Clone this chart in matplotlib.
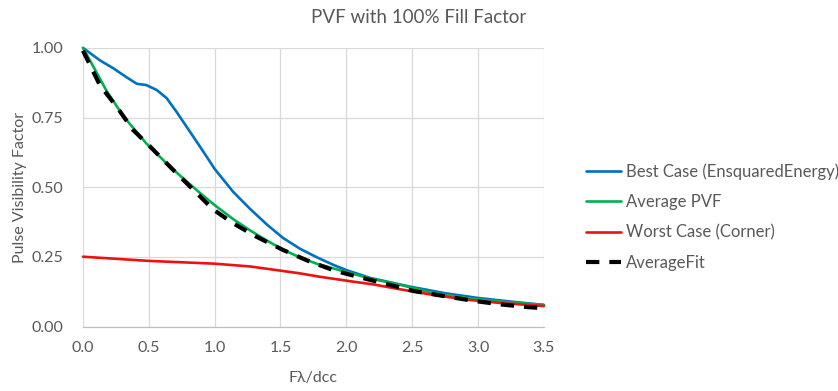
import matplotlib
matplotlib.use("Agg")
import matplotlib.pyplot as plt

plt.rcParams['font.family'] = ['Lato', 'DejaVu Sans']

title = "PVF with 100% Fill Factor"
xlabel = "Fλ/dcc"
ylabel = "Pulse Visibility Factor"

best_x = [0, 0.13, 0.23, 0.33, 0.41, 0.48, 0.56, 0.635, 0.71, 0.79, 0.89, 1.0, 1.14, 1.27, 1.4,
          1.52, 1.65, 1.78, 1.9, 2.0, 2.18, 2.48, 2.75, 3.0, 3.25, 3.5]
best_y = [1.0, 0.955, 0.927, 0.895, 0.871, 0.867, 0.849, 0.82, 0.771, 0.715, 0.645, 0.566, 0.484,
          0.422, 0.365, 0.318, 0.279, 0.248, 0.222, 0.203, 0.175, 0.144, 0.120, 0.103, 0.090, 0.078]

avg_x = [0, 0.04, 0.08, 0.18, 0.31, 0.48, 0.66, 0.89, 1.0, 1.14, 1.27, 1.4, 1.52, 1.65, 1.78, 2.0,
         2.18, 2.41, 2.66, 2.91, 3.17, 3.5]
avg_y = [1.0, 0.966, 0.932, 0.845, 0.753, 0.658, 0.574, 0.479, 0.436, 0.386, 0.345, 0.308, 0.276,
         0.248, 0.225, 0.196, 0.173, 0.150, 0.121, 0.103, 0.090, 0.078]

worst_x = [0, 0.5, 1.0, 1.27, 1.5, 1.65, 1.8, 2.03, 2.2, 2.41, 2.66, 2.91, 3.17, 3.5]
worst_y = [0.251, 0.236, 0.226, 0.216, 0.201, 0.191, 0.179, 0.163, 0.152, 0.134, 0.114, 0.097,
           0.085, 0.074]

fit_x = [0, 0.13, 0.256, 0.38, 0.51, 0.686, 0.84, 0.99, 1.14, 1.32, 1.52, 1.71, 1.91, 2.12, 2.33,
         2.51, 2.74, 2.96, 3.17, 3.38, 3.45]
fit_y = [0.99, 0.865, 0.789, 0.706, 0.646, 0.562, 0.49, 0.42, 0.371, 0.322, 0.275, 0.236, 0.201,
         0.175, 0.150, 0.128, 0.110, 0.093, 0.080, 0.070, 0.068]

labels = ["Best Case (EnsquaredEnergy)", "Average PVF", "Worst Case (Corner)", "AverageFit"]
xticks = [0.0, 0.5, 1.0, 1.5, 2.0, 2.5, 3.0, 3.5]
yticks = [0.0, 0.25, 0.5, 0.75, 1.0]

txt = '#595959'
grid = '#d9d9d9'

fig = plt.figure(figsize=(8.38, 3.91), dpi=100)
ax = fig.add_axes([0.099, 0.1645, 0.550, 0.713])

ax.plot(best_x, best_y, color='#0070C0', lw=1.9, label=labels[0], solid_capstyle='round')
ax.plot(avg_x, avg_y, color='#00B050', lw=1.9, label=labels[1], solid_capstyle='round')
ax.plot(worst_x, worst_y, color='#EE1111', lw=1.9, label=labels[2], solid_capstyle='round')
ax.plot(fit_x, fit_y, color='black', lw=3.0, ls=(0, (3.2, 2.4)), label=labels[3])

ax.set_xlim(0, 3.5)
ax.set_ylim(0, 1.0)
ax.set_xticks(xticks)
ax.set_yticks(yticks)
ax.set_xticklabels([f"{v:.1f}" for v in xticks])
ax.set_yticklabels([f"{v:.2f}" for v in yticks])
ax.tick_params(axis='x', length=0, labelsize=11.5, labelcolor=txt, pad=10)
ax.tick_params(axis='y', length=0, labelsize=11.5, labelcolor=txt, pad=14)
ax.grid(True, color=grid, lw=0.9)
ax.set_axisbelow(True)
for s in ['top', 'right', 'left']:
    ax.spines[s].set_visible(False)
ax.spines['bottom'].set_color('#bfbfbf')
ax.spines['bottom'].set_linewidth(0.9)
for ln in ax.lines:
    ln.set_clip_on(False)

ax.set_xlabel(xlabel, fontsize=11.5, color=txt, labelpad=12)
ax.set_ylabel(ylabel, fontsize=11.5, color=txt)
ax.yaxis.set_label_coords(-0.122, 0.5)
fig.text(0.5, 0.955, title, ha='center', va='center', fontsize=13.5, color=txt)

leg = fig.legend(loc='center left', bbox_to_anchor=(0.681, 0.445), frameon=False,
                 fontsize=12, handlelength=2.1, handletextpad=0.3, labelspacing=0.85,
                 labelcolor=txt)

fig.savefig('out.png', dpi=100)
